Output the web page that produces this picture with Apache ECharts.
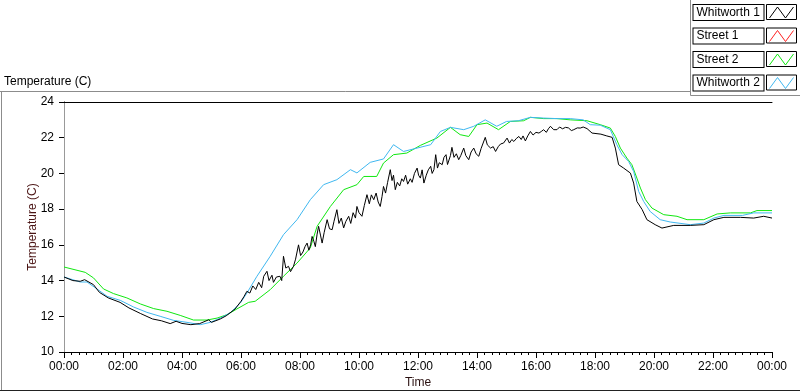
<!DOCTYPE html>
<html>
<head>
<meta charset="utf-8">
<script src="https://cdn.jsdelivr.net/npm/echarts@6/dist/echarts.min.js"></script>
<style>
  html, body { margin: 0; padding: 0; background: #fff; }
  #chart { width: 800px; height: 392px; }
</style>
</head>
<body>
<div id="chart"></div>
<script>
// [hour of day, temperature C]
var whitworth1 = [
  [0, 14.2], [0.3, 14.0], [0.55, 13.96], [0.7, 14.05], [1.0, 13.77], [1.2, 13.34], [1.5, 13.03],
  [1.9, 12.78], [2.2, 12.47], [2.6, 12.15], [3.0, 11.85], [3.3, 11.75], [3.6, 11.59], [3.8, 11.72],
  [4.0, 11.6], [4.3, 11.53], [4.6, 11.59], [4.9, 11.8], [5.0, 11.66], [5.3, 11.85], [5.5, 12.03],
  [5.8, 12.41], [6.0, 12.84], [6.1, 13.1], [6.2, 13.4], [6.3, 13.3], [6.4, 13.7], [6.5, 13.5],
  [6.6, 13.9], [6.7, 13.6], [6.77, 14.24], [6.88, 14.52], [6.95, 14.0], [7.05, 14.3], [7.1, 13.9],
  [7.2, 14.2], [7.32, 14.24], [7.38, 14.0], [7.44, 15.36], [7.52, 14.7], [7.61, 14.8], [7.68, 14.5],
  [7.78, 14.8], [7.85, 15.2], [7.95, 16.0], [8.02, 15.4], [8.1, 15.6], [8.17, 15.9], [8.24, 16.1],
  [8.3, 15.7], [8.36, 16.0], [8.41, 16.47], [8.47, 16.2], [8.52, 15.9], [8.58, 16.6], [8.63, 17.04],
  [8.7, 16.5], [8.75, 16.1], [8.82, 16.7], [8.92, 17.41], [9.0, 16.9], [9.09, 16.85], [9.15, 17.3],
  [9.25, 17.97], [9.32, 17.2], [9.4, 17.5], [9.48, 16.95], [9.55, 17.3], [9.65, 17.6], [9.72, 17.2],
  [9.8, 17.8], [9.88, 17.5], [9.93, 18.15], [10.0, 17.8], [10.1, 17.6], [10.18, 18.2], [10.27, 18.81],
  [10.35, 18.3], [10.42, 18.8], [10.5, 18.53], [10.58, 18.9], [10.65, 18.4], [10.72, 18.15],
  [10.78, 18.7], [10.83, 19.27], [10.9, 18.9], [10.97, 19.5], [11.06, 20.21], [11.12, 19.6],
  [11.17, 19.9], [11.23, 19.09], [11.3, 19.5], [11.38, 19.3], [11.45, 19.7], [11.51, 19.55],
  [11.58, 19.9], [11.65, 19.4], [11.74, 19.7], [11.8, 19.5], [11.88, 20.0], [11.97, 20.3],
  [12.02, 19.9], [12.08, 19.74], [12.14, 20.2], [12.2, 19.46], [12.28, 19.9], [12.35, 20.2],
  [12.43, 20.4], [12.48, 20.0], [12.54, 20.21], [12.6, 21.05], [12.66, 20.3], [12.72, 20.6],
  [12.82, 20.49], [12.88, 20.9], [12.95, 21.05], [13.0, 20.5], [13.05, 20.58], [13.1, 21.0],
  [13.15, 21.46], [13.22, 20.9], [13.3, 21.1], [13.38, 20.77], [13.45, 21.0], [13.55, 21.42],
  [13.62, 21.0], [13.72, 20.77], [13.8, 21.2], [13.89, 21.42], [13.97, 21.1], [14.06, 20.96],
  [14.14, 21.4], [14.2, 21.5], [14.28, 22.02], [14.35, 21.6], [14.46, 21.42], [14.55, 21.5],
  [14.63, 21.23], [14.72, 21.5], [14.8, 21.65], [14.9, 21.7], [15.02, 21.98], [15.1, 21.7],
  [15.18, 21.9], [15.25, 21.79], [15.33, 21.95], [15.42, 22.07], [15.5, 21.9], [15.56, 22.1],
  [15.64, 21.82], [15.72, 22.1], [15.81, 22.35], [15.9, 22.15], [16.0, 22.3], [16.1, 22.26],
  [16.18, 22.35], [16.26, 22.45], [16.35, 22.3], [16.42, 22.5], [16.49, 22.64], [16.6, 22.45],
  [16.71, 22.45], [16.8, 22.6], [16.9, 22.5], [17.0, 22.58], [17.1, 22.55], [17.2, 22.4],
  [17.28, 22.45], [17.4, 22.55], [17.5, 22.54], [17.6, 22.6], [17.73, 22.51], [17.9, 22.26],
  [18.2, 22.2], [18.4, 22.1], [18.58, 22.02], [18.69, 21.42], [18.8, 20.49], [18.97, 20.3],
  [19.2, 20.02], [19.31, 19.46], [19.42, 18.43], [19.6, 17.97], [19.76, 17.41], [20.04, 17.13],
  [20.27, 16.94], [20.67, 17.09], [21.23, 17.09], [21.69, 17.13], [22.03, 17.41], [22.37, 17.54],
  [22.93, 17.54], [23.38, 17.5], [23.72, 17.6], [24, 17.5]
];
var street1 = [];
var street2 = [
  [0, 14.76], [0.72, 14.46], [1.0, 14.15], [1.34, 13.53], [1.68, 13.27], [2.13, 13.03], [2.59, 12.69],
  [3.04, 12.43], [3.49, 12.28], [3.94, 12.05], [4.39, 11.79], [4.85, 11.79], [5.19, 11.9], [5.53, 12.09],
  [5.86, 12.41], [6.26, 12.78], [6.48, 12.84], [6.99, 13.49], [7.44, 14.24], [7.9, 14.98], [8.35, 15.83],
  [8.58, 17.04], [9.03, 18.15], [9.48, 19.09], [9.93, 19.37], [10.16, 19.83], [10.6, 19.83], [10.83, 20.58],
  [11.17, 21.05], [11.62, 21.14], [12.08, 21.57], [12.64, 21.98], [13.1, 22.58], [13.43, 22.17],
  [13.72, 22.07], [14.0, 22.73], [14.34, 22.82], [14.73, 22.45], [15.13, 22.91], [15.58, 22.95],
  [15.81, 23.14], [16.26, 23.07], [16.71, 23.07], [17.16, 23.0], [17.73, 22.95], [18.18, 22.73],
  [18.52, 22.54], [18.69, 22.07], [18.86, 21.42], [19.08, 20.86], [19.25, 20.49], [19.42, 19.74],
  [19.54, 19.18], [19.71, 18.53], [19.93, 18.06], [20.33, 17.69], [20.78, 17.6], [21.12, 17.41],
  [21.69, 17.41], [22.14, 17.73], [22.59, 17.79], [23.27, 17.79], [23.49, 17.92], [24, 17.92]
];
var whitworth2 = [
  [0, 14.2], [0.55, 13.92], [0.78, 13.92], [1.12, 13.53], [1.46, 13.12], [1.91, 12.89], [2.36, 12.52],
  [2.81, 12.22], [3.26, 12.0], [3.72, 11.77], [4.17, 11.66], [4.62, 11.53], [4.96, 11.66], [5.3, 11.9],
  [5.64, 12.2], [5.98, 12.75], [6.2, 13.3], [6.54, 14.24], [6.99, 15.36], [7.44, 16.57], [7.9, 17.41],
  [8.35, 18.53], [8.8, 19.37], [9.25, 19.65], [9.71, 20.21], [9.93, 20.03], [10.38, 20.62], [10.83, 20.81],
  [11.17, 21.61], [11.51, 21.23], [11.97, 21.42], [12.43, 21.61], [12.76, 22.35], [13.1, 22.58],
  [13.55, 22.45], [13.89, 22.64], [14.28, 23.0], [14.67, 22.64], [15.0, 22.91], [15.4, 22.95],
  [15.81, 23.14], [16.26, 23.1], [16.71, 23.07], [17.16, 23.07], [17.6, 23.0], [17.84, 22.73],
  [18.18, 22.7], [18.52, 22.45], [18.74, 21.61], [18.92, 21.05], [19.14, 20.67], [19.31, 20.11],
  [19.48, 18.99], [19.65, 18.43], [19.87, 17.87], [20.21, 17.41], [20.55, 17.28], [21.23, 17.13],
  [21.69, 17.22], [22.03, 17.5], [22.37, 17.65], [23.0, 17.65], [23.38, 17.79], [24, 17.79]
];

var seriesNames = ['Whitworth 1', 'Street 1', 'Street 2', 'Whitworth 2'];
var seriesColors = ['#000000', '#ff2020', '#10e810', '#40b8f0'];
var seriesData = [whitworth1, street1, street2, whitworth2];

var font = 'Liberation Sans';
var legendRows = [4, 27.5, 51, 74.5];

function hourLabel(v) {
  var h = v % 24;
  return (h < 10 ? '0' : '') + h + ':00';
}

var chart = echarts.init(document.getElementById('chart'));

var series = seriesNames.map(function (name, i) {
  return {
    name: name,
    type: 'line',
    data: seriesData[i],
    showSymbol: false,
    symbol: 'none',
    z: i === 0 ? 5 : 3,
    lineStyle: { color: seriesColors[i], width: 1 },
    itemStyle: { color: seriesColors[i] }
  };
});

// one legend per row so each box sits where the reference has it
var legends = seriesNames.map(function (name, i) {
  return {
    orient: 'vertical',
    right: 6,
    top: legendRows[i],
    padding: 0,
    itemWidth: 26,
    itemHeight: 11,
    align: 'right',
    selectedMode: false,
    icon: 'path://M0,11L8,0L16,11L24,0',
    data: [{
      name: name,
      itemStyle: { color: 'rgba(0,0,0,0)', borderColor: seriesColors[i], borderWidth: 1 }
    }],
    formatter: function (n) { return '{box|' + n + '}'; },
    textStyle: {
      rich: {
        box: {
          fontFamily: font, fontSize: 12, color: '#000',
          width: 64, height: 15, lineHeight: 15, padding: [0, 3], align: 'left',
          borderColor: '#000', borderWidth: 1, backgroundColor: '#fff'
        }
      }
    }
  };
});

chart.setOption({
  animation: false,
  backgroundColor: '#fff',
  grid: { left: 64, right: 28, top: 102, bottom: 40, outerBoundsMode: 'none' },
  legend: legends,
  xAxis: [{
    type: 'value',
    min: 0, max: 24, interval: 2,
    name: 'Time',
    nameLocation: 'middle',
    nameGap: 25,
    nameMoveOverlap: false,
    nameTextStyle: { fontFamily: font, fontSize: 12, color: '#2a1010' },
    axisLine: { show: true, lineStyle: { color: '#000', width: 1 } },
    axisTick: { show: true, length: 6, lineStyle: { color: '#000' } },
    minorTick: { show: true, splitNumber: 8, length: 3, lineStyle: { color: '#000' } },
    splitLine: { show: false },
    axisLabel: { fontFamily: font, fontSize: 12, color: '#000', margin: 9, formatter: hourLabel }
  }, {
    type: 'value', position: 'top', min: 0, max: 24,
    axisLine: { show: true, lineStyle: { color: '#000' } },
    axisTick: { show: false }, axisLabel: { show: false }, splitLine: { show: false }
  }],
  yAxis: [{
    type: 'value',
    min: 10, max: 24, interval: 2,
    name: 'Temperature (C)',
    nameLocation: 'middle',
    nameGap: 25,
    nameMoveOverlap: false,
    nameTextStyle: { fontFamily: font, fontSize: 12, color: '#4a1414' },
    axisLine: { show: true, lineStyle: { color: '#000', width: 1 } },
    axisTick: { show: true, length: 5, lineStyle: { color: '#000' } },
    splitLine: { show: false },
    axisLabel: { fontFamily: font, fontSize: 12, color: '#000', margin: 10 }
  }, {
    type: 'value', position: 'right', min: 10, max: 24,
    axisLine: { show: true, lineStyle: { color: '#999' } },
    axisTick: { show: false }, axisLabel: { show: false }, splitLine: { show: false }
  }],
  graphic: [
    { type: 'text', left: 4, top: 76, style: { text: 'Temperature (C)', font: '12px ' + font, fill: '#000' } },
    { type: 'line', shape: { x1: 0, y1: 91.5, x2: 690.5, y2: 91.5 }, style: { stroke: '#8c8c8c', lineWidth: 1 } },
    { type: 'line', shape: { x1: 690.5, y1: 0, x2: 690.5, y2: 95.5 }, style: { stroke: '#8c8c8c', lineWidth: 1 } },
    { type: 'line', shape: { x1: 690.5, y1: 95.5, x2: 800, y2: 95.5 }, style: { stroke: '#8c8c8c', lineWidth: 1 } },
    { type: 'line', shape: { x1: 1.5, y1: 91.5, x2: 1.5, y2: 390.5 }, style: { stroke: '#8c8c8c', lineWidth: 1 } },
    { type: 'line', shape: { x1: 0, y1: 390.5, x2: 800, y2: 390.5 }, style: { stroke: '#222', lineWidth: 1 } }
  ].concat(legendRows.map(function (y) {
    return { type: 'rect', shape: { x: 766.5, y: y + 0.5, width: 30, height: 15 }, style: { fill: 'none', stroke: '#000', lineWidth: 1 }, z: 10 };
  })),
  series: series
});
</script>
</body>
</html>
